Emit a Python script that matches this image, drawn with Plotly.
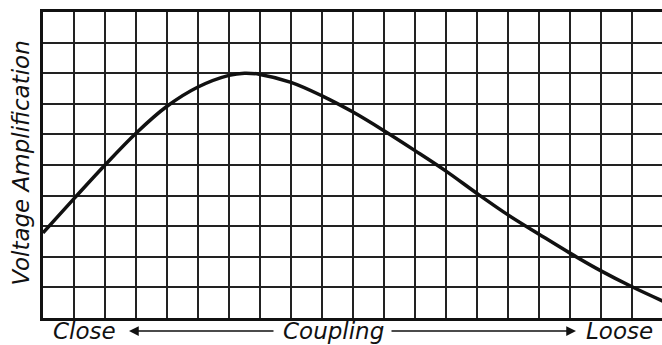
import plotly.graph_objects as go

# Coupling (grid columns, close -> loose) and relative voltage amplification
coupling = [0, 1, 2, 3, 4, 5, 6, 6.5, 7, 8, 9, 10, 11, 12, 13, 14, 15, 16, 17, 18, 19, 20]
amplification = [2.78, 3.9, 5.0, 6.04, 6.92, 7.55, 7.93, 8.0, 7.96, 7.7, 7.26, 6.73,
                 6.12, 5.47, 4.8, 4.07, 3.37, 2.74, 2.12, 1.54, 1.02, 0.55]

y_title = "Voltage Amplification"
x_left, x_mid, x_right = "Close", "Coupling", "Loose"

W, H = 662, 345
L, T, B, R = 43, 12, 27, 0
unit_x = 31.0
x_max = (W - L - R) / unit_x
plot_h = H - T - B

fig = go.Figure()
fig.add_trace(go.Scatter(
    x=coupling, y=amplification, mode="lines",
    line=dict(color="#111", width=3.5, shape="spline", smoothing=1.0),
    hoverinfo="skip", showlegend=False,
))

font = dict(family="DejaVu Sans", size=23, color="#111")
lab_y = -13 / plot_h  # just below the bottom border


def px_to_x(px):
    return (px - L) / unit_x


annotations = [
    dict(text=f"<i>{y_title}</i>", xref="paper", yref="paper", x=-22 / (W - L), y=0.505,
         textangle=-90, showarrow=False, font=font, xanchor="center", yanchor="middle"),
    dict(text=f"<i>{x_left}</i>", xref="x", yref="paper", x=px_to_x(84), y=lab_y,
         showarrow=False, font=font, yanchor="middle"),
    dict(text=f"<i>{x_mid}</i>", xref="x", yref="paper", x=px_to_x(333), y=lab_y,
         showarrow=False, font=font, yanchor="middle"),
    dict(text=f"<i>{x_right}</i>", xref="x", yref="paper", x=px_to_x(619), y=lab_y,
         showarrow=False, font=font, yanchor="middle"),
    # arrows pointing out from the "Coupling" label
    dict(text="", xref="x", yref="paper", x=px_to_x(129), y=lab_y, axref="pixel",
         ayref="pixel", ax=146, ay=0, showarrow=True, arrowhead=2, arrowsize=1.3,
         arrowwidth=1.5, arrowcolor="#111"),
    dict(text="", xref="x", yref="paper", x=px_to_x(576), y=lab_y, axref="pixel",
         ayref="pixel", ax=-186, ay=0, showarrow=True, arrowhead=2, arrowsize=1.3,
         arrowwidth=1.5, arrowcolor="#111"),
]

fig.update_layout(
    width=W, height=H,
    margin=dict(l=L, r=R, t=T, b=B),
    paper_bgcolor="white", plot_bgcolor="white",
    annotations=annotations,
    xaxis=dict(range=[0, x_max], dtick=1, tick0=0, showgrid=True,
               gridcolor="#222", gridwidth=2, zeroline=False,
               showticklabels=False, ticks="", showline=True,
               linecolor="#111", linewidth=3, mirror=True, fixedrange=True),
    yaxis=dict(range=[0, 10], dtick=1, tick0=0, showgrid=True,
               gridcolor="#222", gridwidth=2, zeroline=False,
               showticklabels=False, ticks="", showline=True,
               linecolor="#111", linewidth=3, mirror=False, fixedrange=True),
)

fig.write_html("out.html")
